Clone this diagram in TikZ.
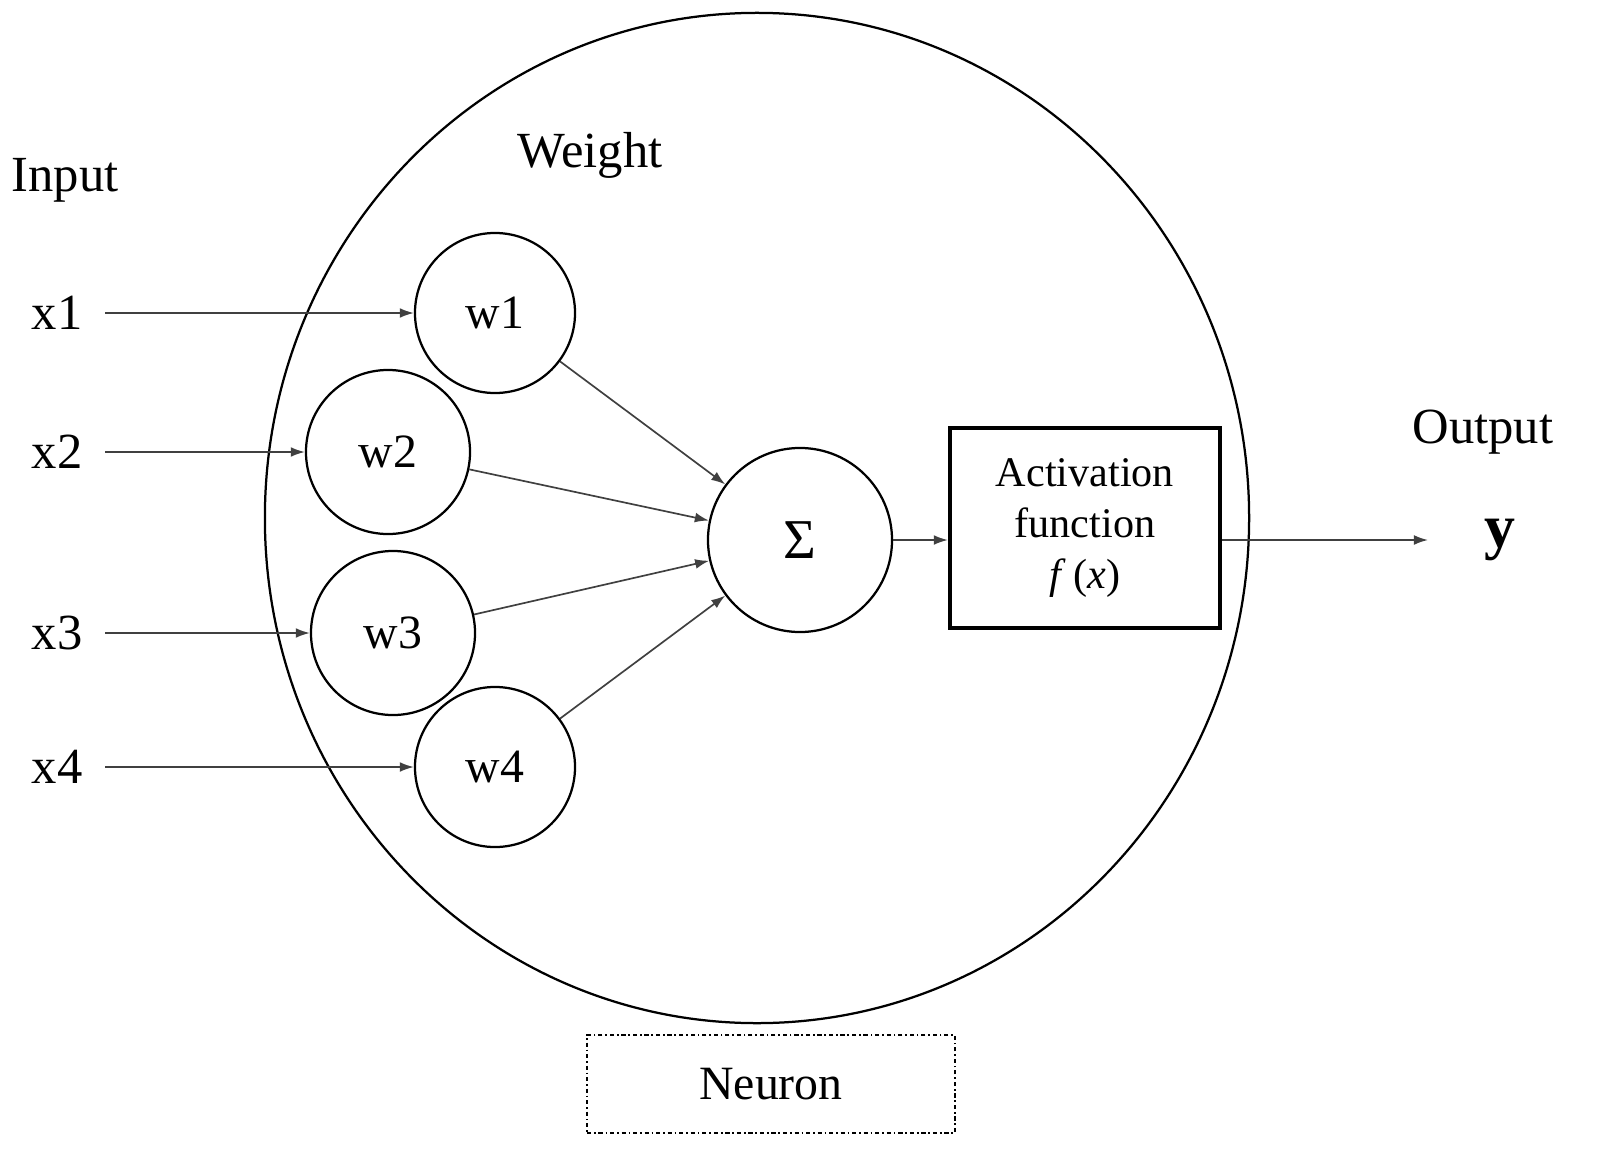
\documentclass[tikz,border=0pt]{standalone}
\usepackage{fontspec}
\setmainfont{Liberation Serif}
\usetikzlibrary{arrows.meta,shapes.geometric}
\begin{document}
\begin{tikzpicture}[x=0.025cm,y=-0.025cm,
  wc/.style={circle,draw,line width=1.6pt,inner sep=0pt,font=\fontsize{34}{36}\selectfont},
  lab/.style={font=\fontsize{36}{40}\selectfont},
  arr/.style={draw=black!75,line width=1.2pt,-{Latex[length=10pt,width=7pt]}}]
\useasboundingbox (0,0) rectangle (1604,1176);
\node[draw,line width=1.6pt,ellipse,minimum width=24.6cm,minimum height=25.25cm,inner sep=0pt] (neuron) at (757,518) {};
\node[wc,minimum size=4cm] (w1) at (495,313) {w1};
\node[wc,minimum size=4.1cm] (w2) at (388,452) {w2};
\node[wc,minimum size=4.1cm] (w3) at (393,633) {w3};
\node[wc,minimum size=4cm] (w4) at (495,767) {w4};
\node[wc,minimum size=4.6cm,font=\fontsize{40}{44}\selectfont] (s) at (800,540) {Σ};
\node[draw,line width=3pt,minimum width=6.75cm,minimum height=5cm,align=center,font=\fontsize{30}{36}\selectfont] (act) at (1085,528) {Activation\\function\\\textit{f}\,(\textit{x})};
\node[lab] (in) at (65,180) {Input};
\node[lab] (wt) at (590,155) {Weight};
\node[lab] (out) at (1483,432) {Output};
\node[lab,font=\fontsize{44}{48}\selectfont\bfseries] (y) at (1500,540) {y};
\node[lab] (x1) at (57,313) {x1};
\node[lab] (x2) at (57,452) {x2};
\node[lab] (x3) at (57,633) {x3};
\node[lab] (x4) at (57,767) {x4};
\node[draw,line width=1.2pt,dash dot,minimum width=9.2cm,minimum height=2.45cm,font=\fontsize{34}{36}\selectfont] (nl) at (771,1084) {Neuron};
\coordinate (a1) at (105,313);
\coordinate (a2) at (105,452);
\coordinate (a3) at (105,633);
\coordinate (a4) at (105,767);
\coordinate (ye) at (1428,540);
\draw[arr] (a1) -- (w1);
\draw[arr] (a2) -- (w2);
\draw[arr] (a3) -- (w3);
\draw[arr] (a4) -- (w4);
\draw[arr] (w1) -- (s);
\draw[arr] (w2) -- (s);
\draw[arr] (w3) -- (s);
\draw[arr] (w4) -- (s);
\draw[arr] (s.east) -- (act.west |- s.east);
\draw[arr] (act.east |- ye) -- (ye);
\end{tikzpicture}
\end{document}
